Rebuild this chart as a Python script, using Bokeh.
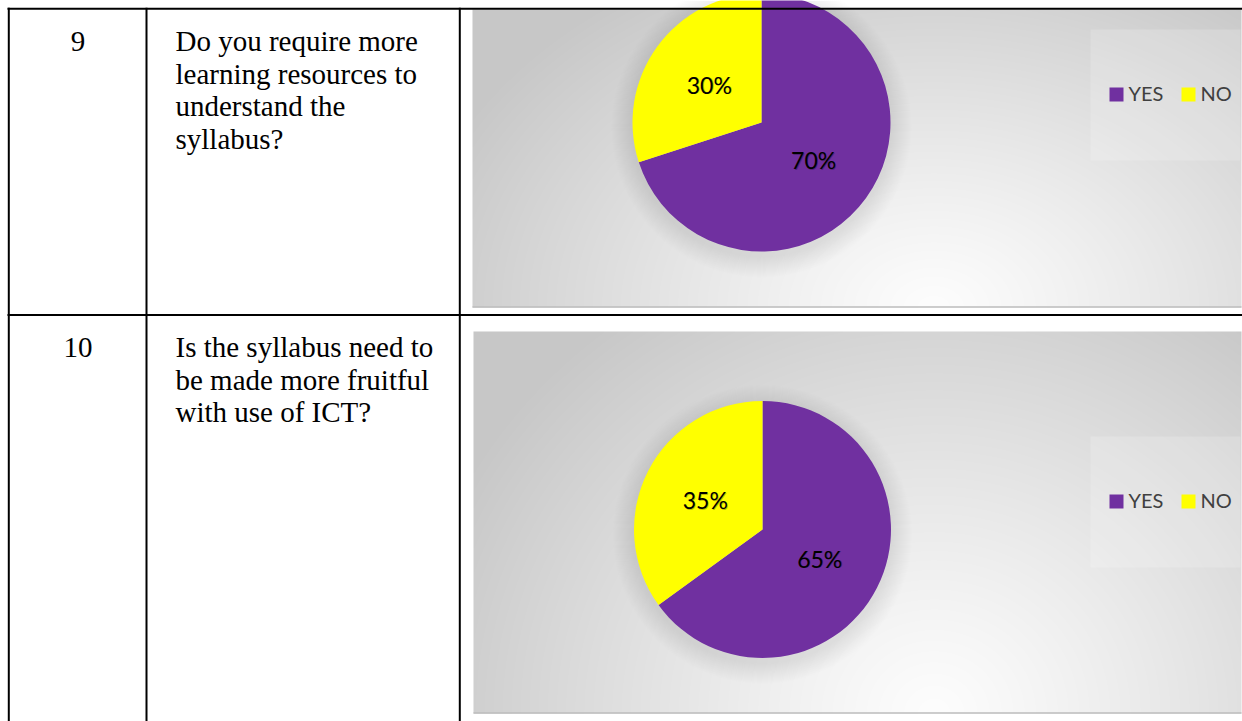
import numpy as np
from bokeh.plotting import figure
from bokeh.models import Range1d
from bokeh.core.properties import value
from bokeh.embed import file_html
from bokeh.resources import INLINE

# ---------------- data ----------------
row_numbers = ["9", "10"]
question_lines = [
    ["Do you require more", "learning resources to", "understand the", "syllabus?"],
    ["Is the syllabus need to", "be made more fruitful", "with use of ICT?"],
]
categories = ["YES", "NO"]
yes_values = [70, 65]
no_values = [30, 35]
colors = ["#7030A0", "#FFFF00"]

# ---------------- layout (screen px, page coords) ----------------
W, H = 1242, 721
PAGE_H = 721


def sy(y):
    """screen y -> data y"""
    return PAGE_H - y


p = figure(width=W, height=H, x_range=Range1d(0, W), y_range=Range1d(0, H),
           output_backend="svg", toolbar_location=None, min_border=0,
           x_axis_location=None, y_axis_location=None)
p.grid.visible = False
p.outline_line_color = None
p.background_fill_color = "white"
p.border_fill_color = "white"

charts = [
    dict(x0=472, x1=1241, yt=9.5, yb=307, cx=761, cy=122, r=129,
         lbox=(1090, 1240, 29, 160), ly=94),
    dict(x0=473, x1=1241, yt=331, yb=713, cx=762, cy=529, r=128.5,
         lbox=(1090, 1240, 436, 567), ly=501),
]


def gradient(w, h, cxf=0.6, cyf=1.0, rx=0.7, ry=1.3):
    xs = np.arange(w) + 0.5
    ys = np.arange(h) + 0.5
    X, Y = np.meshgrid(xs, ys)
    d = np.sqrt(((X - cxf * w) / (rx * w)) ** 2 + ((Y - cyf * h) / (ry * h)) ** 2)
    v = 253 - 54 * np.clip(d, 0, 1) ** 1.15
    v = v.astype(np.uint8)
    img = np.zeros((h, w), dtype=np.uint32)
    view = img.view(dtype=np.uint8).reshape((h, w, 4))
    view[:, :, 0] = v
    view[:, :, 1] = v
    view[:, :, 2] = v
    view[:, :, 3] = 255
    return np.flipud(img)


values_per_chart = [[yes_values[i], no_values[i]] for i in range(len(yes_values))]

for ch, vals in zip(charts, values_per_chart):
    w = int(round(ch["x1"] - ch["x0"]))
    h = int(round(ch["yb"] - ch["yt"]))
    p.image_rgba(image=[gradient(w, h)], x=ch["x0"], y=sy(ch["yb"]), dw=w, dh=h)
    p.segment(x0=ch["x0"], y0=sy(ch["yb"]) + 0.5, x1=ch["x1"], y1=sy(ch["yb"]) + 0.5,
              line_color="#bdbdbd", line_width=1.5)
    lx0, lx1, lt, lb = ch["lbox"]
    p.quad(left=lx0, right=lx1, top=sy(lt), bottom=sy(lb), fill_color="white",
           fill_alpha=0.18, line_color=None)

    # soft pie shadow
    for k in range(1, 22):
        p.circle(x=ch["cx"], y=sy(ch["cy"]) - 5, radius=ch["r"] + k, fill_color="#808080",
                 fill_alpha=0.012, line_color=None)

    total = float(sum(vals))
    cum = np.concatenate([[0], np.cumsum(vals)]) / total
    starts_cw = np.pi / 2 - 2 * np.pi * cum[:-1]
    ends_cw = np.pi / 2 - 2 * np.pi * cum[1:]
    p.wedge(x=[ch["cx"]] * len(vals), y=[sy(ch["cy"])] * len(vals), radius=ch["r"],
            start_angle=list(ends_cw), end_angle=list(starts_cw), direction="anticlock",
            fill_color=colors, line_color=None)

    mids = (starts_cw + ends_cw) / 2
    lx = ch["cx"] + 0.5 * ch["r"] * np.cos(mids)
    ly = sy(ch["cy"]) + 0.5 * ch["r"] * np.sin(mids)
    labels = [f"{v}%" for v in vals]
    p.text(x=list(lx + 0.8), y=list(ly - 0.8), text=labels, text_font=value("Lato"),
           text_font_size="23px", text_align="center", text_baseline="middle",
           text_color="#000000", text_alpha=0.25)
    p.text(x=list(lx), y=list(ly), text=labels, text_font=value("Lato"),
           text_font_size="23px", text_align="center", text_baseline="middle",
           text_color="#000000")

    sw_x = [1109, 1181]
    p.rect(x=[sx + 7 for sx in sw_x], y=[sy(ch["ly"])] * 2, width=14, height=14,
           fill_color=colors, line_color=None)
    p.text(x=[sx + 19 for sx in sw_x], y=[sy(ch["ly"] - 1.5)] * 2, text=categories,
           text_font=value("Lato"), text_font_size="20px", text_align="left",
           text_baseline="middle", text_color="#404040")

# ---------------- table lines ----------------
for y in [8.3, 314.5]:
    p.segment(x0=7, y0=sy(y), x1=1250, y1=sy(y), line_color="black", line_width=2)
for x in [8.3, 146, 459.3]:
    p.segment(x0=x, y0=sy(7.3), x1=x, y1=sy(730), line_color="black", line_width=2)

# ---------------- table text ----------------
row_centers = [40.5, 346.5]
line_step = 32.5
for num, lines, b in zip(row_numbers, question_lines, row_centers):
    p.text(x=[77.5], y=[sy(b)], text=[num], text_font=value("Liberation Serif"),
           text_font_size="29px", text_align="center", text_baseline="middle",
           text_color="black")
    p.text(x=[175] * len(lines), y=[sy(b + i * line_step) for i in range(len(lines))],
           text=lines, text_font=value("Liberation Serif"), text_font_size="29px",
           text_align="left", text_baseline="middle", text_color="black")

open("out.html", "w").write(file_html(p, INLINE))
